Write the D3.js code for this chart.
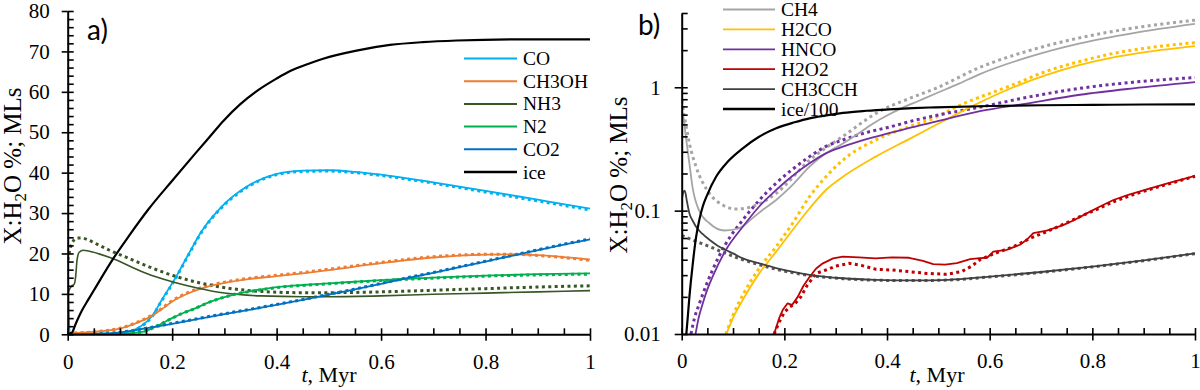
<!DOCTYPE html>
<html><head><meta charset="utf-8">
<script src="https://cdn.jsdelivr.net/npm/d3@7"></script>
<style>
body{margin:0;background:#fff;} svg{display:block;}
</style>
</head><body>
<svg id="chart" width="1200" height="390"></svg>
<script>
// ---------- Panel a) data (X:H2O %) ----------
const aCategories = ["CO", "CH3OH", "NH3", "N2", "CO2", "ice"];
const aColors = ["#00B0F0", "#ED7D31", "#375623", "#00B050", "#0070C0", "#000000"];
const aYTicks = [0, 10, 20, 30, 40, 50, 60, 70, 80];
const xTicks = [0, 0.2, 0.4, 0.6, 0.8, 1];

const a_ice_t = [0, 0.008, 0.015, 0.027, 0.04, 0.053, 0.085, 0.117, 0.155, 0.2, 0.244, 0.276, 0.298, 0.33, 0.362, 0.4, 0.425, 0.46, 0.489, 0.553, 0.617, 0.68, 0.745, 0.871, 1.0];
const a_ice_v = [0, 0.4, 2.5, 5.8, 8.7, 11.5, 18.3, 24.3, 31, 38, 44.7, 49.5, 52.8, 56.9, 60.2, 63.3, 65.1, 66.9, 68.2, 70.2, 71.6, 72.3, 72.7, 73, 73];

const a_CO_t = [0, 0.004, 0.05, 0.1, 0.117, 0.14, 0.161, 0.18, 0.206, 0.232, 0.257, 0.295, 0.34, 0.397, 0.45, 0.5, 0.55, 0.6, 0.65, 0.7, 0.8, 0.9, 1.0];
const a_CO_v = [19, 0.3, 0.1, 0.3, 0.6, 2, 4.4, 8.5, 13.9, 20, 25.6, 31.6, 36.3, 39.6, 40.5, 40.6, 40.2, 39.5, 38.6, 37.6, 35.5, 33.3, 31.1];
const a_COd_t = [0, 0.05, 0.1, 0.117, 0.14, 0.161, 0.18, 0.206, 0.232, 0.257, 0.295, 0.34, 0.397, 0.45, 0.5, 0.55, 0.6, 0.65, 0.7, 0.8, 0.9, 1.0];
const a_COd_v = [0, 0.1, 0.3, 0.6, 1.9, 4.3, 8.3, 13.7, 19.8, 25.4, 31.4, 36.1, 39.4, 40.3, 40.4, 40.0, 39.3, 38.4, 37.4, 35.2, 33.0, 30.8];

const a_CH3OH_t = [0, 0.05, 0.1, 0.13, 0.16, 0.18, 0.2, 0.23, 0.26, 0.3, 0.35, 0.4, 0.45, 0.5, 0.6, 0.7, 0.8, 0.85, 0.9, 1.0];
const a_CH3OH_v = [0.3, 0.6, 1.4, 2.7, 4.5, 6.2, 8.1, 10.1, 11.5, 12.7, 13.7, 14.4, 15.1, 15.9, 17.6, 19.0, 19.7, 19.8, 19.6, 18.5];
const a_CH3OHd_v = [0.3, 0.6, 1.5, 2.8, 4.7, 6.4, 8.3, 10.3, 11.7, 12.9, 13.9, 14.6, 15.3, 16.1, 17.8, 19.2, 19.8, 19.8, 19.5, 18.3];

const a_NH3_t = [0, 0.004, 0.008, 0.012, 0.015, 0.018, 0.022, 0.03, 0.04, 0.06, 0.085, 0.12, 0.15, 0.2, 0.25, 0.3, 0.37, 0.45, 0.5, 0.6, 0.7, 0.8, 0.9, 1.0];
const a_NH3_v = [10, 11.3, 12, 12.3, 14, 18.5, 20.3, 20.8, 20.6, 19.9, 18.8, 16.8, 15.1, 13, 11.4, 10.2, 9.5, 9.3, 9.3, 9.5, 9.9, 10.2, 10.5, 10.8];
const a_NH3d_t = [0, 0.008, 0.018, 0.027, 0.04, 0.053, 0.08, 0.117, 0.15, 0.18, 0.21, 0.244, 0.28, 0.308, 0.372, 0.45, 0.5, 0.6, 0.7, 0.8, 0.9, 1.0];
const a_NH3d_v = [18.3, 22.5, 23.8, 23.8, 23.3, 22.5, 20.8, 18.8, 17, 15.5, 14.2, 13, 12, 11.4, 10.6, 10.3, 10.3, 10.5, 10.9, 11.3, 11.7, 12];

const a_N2_t = [0, 0.1, 0.13, 0.149, 0.17, 0.2, 0.22, 0.244, 0.27, 0.295, 0.32, 0.35, 0.38, 0.41, 0.45, 0.5, 0.6, 0.7, 0.8, 0.9, 1.0];
const a_N2_v = [0, 0.15, 0.4, 0.8, 2.0, 4.0, 5.2, 6.4, 7.9, 9.0, 9.9, 10.7, 11.3, 11.8, 12.2, 12.6, 13.4, 14.0, 14.5, 14.9, 15.1];
const a_N2d_v = [0, 0.15, 0.4, 0.8, 2.0, 4.0, 5.2, 6.4, 7.9, 9.0, 9.9, 10.6, 11.2, 11.7, 12.1, 12.5, 13.3, 13.9, 14.4, 14.7, 14.9];

const a_CO2_t = [0, 0.05, 0.1, 0.117, 0.15, 0.2, 0.25, 0.3, 0.35, 0.4, 0.45, 0.5, 0.55, 0.6, 0.65, 0.7, 0.75, 0.8, 0.85, 0.9, 0.95, 1.0];
const a_CO2_v = [0, 0.1, 0.5, 0.8, 1.5, 2.6, 3.8, 5.0, 6.1, 7.3, 8.5, 9.8, 11.1, 12.5, 13.9, 15.2, 16.6, 18, 19.4, 20.8, 22.2, 23.5];
const a_CO2d_v = [0, 0.1, 0.5, 0.8, 1.5, 2.7, 3.9, 5.1, 6.2, 7.4, 8.6, 9.9, 11.2, 12.6, 14.0, 15.3, 16.7, 18.1, 19.5, 20.9, 22.3, 23.6];

// ---------- Panel b) data (log scale) ----------
const bCategories = ["CH4", "H2CO", "HNCO", "H2O2", "CH3CCH", "ice/100"];
const bColors = ["#A5A5A5", "#FFC000", "#7030A0", "#C00000", "#404040", "#000000"];
const bYTicks = [0.01, 0.1, 1];
const bYTickLabels = ["0.01", "0.1", "1"];

const b_CH4_t = [0, 0.004, 0.008, 0.015, 0.021, 0.034, 0.054, 0.083, 0.112, 0.138, 0.16, 0.184, 0.215, 0.249, 0.28, 0.314, 0.34, 0.37, 0.4, 0.43, 0.46, 0.495, 0.54, 0.581, 0.68, 0.776, 0.88, 1.0];
const b_CH4_v = [0.65, 0.55, 0.4, 0.242, 0.156, 0.1, 0.079, 0.069, 0.072, 0.087, 0.103, 0.122, 0.16, 0.227, 0.29, 0.35, 0.41, 0.5, 0.59, 0.68, 0.77, 0.89, 1.07, 1.28, 1.78, 2.27, 2.75, 3.26];
const b_CH4d_t = [0, 0.004, 0.008, 0.015, 0.028, 0.054, 0.08, 0.106, 0.138, 0.184, 0.249, 0.314, 0.386, 0.44, 0.495, 0.581, 0.68, 0.776, 0.88, 1.0];
const b_CH4d_v = [0.78, 0.62, 0.5, 0.35, 0.227, 0.138, 0.111, 0.103, 0.108, 0.138, 0.257, 0.4, 0.64, 0.8, 0.98, 1.45, 2.0, 2.52, 3.02, 3.5];

const b_H2CO_t = [0.087, 0.1, 0.119, 0.151, 0.184, 0.216, 0.249, 0.281, 0.314, 0.378, 0.443, 0.505, 0.571, 0.646, 0.711, 0.776, 0.841, 0.906, 1.0];
const b_H2CO_v = [0.01, 0.0135, 0.0189, 0.031, 0.0465, 0.0697, 0.104, 0.147, 0.188, 0.274, 0.38, 0.52, 0.72, 1.0, 1.26, 1.52, 1.75, 1.94, 2.16];
const b_H2COd_t = [0.086, 0.1, 0.119, 0.151, 0.184, 0.216, 0.249, 0.281, 0.314, 0.378, 0.443, 0.495, 0.539, 0.646, 0.711, 0.776, 0.841, 0.906, 1.0];
const b_H2COd_v = [0.01, 0.0142, 0.0207, 0.0341, 0.0511, 0.0789, 0.13, 0.188, 0.257, 0.374, 0.479, 0.571, 0.705, 1.05, 1.35, 1.62, 1.88, 2.08, 2.3];

const b_HNCO_t = [0.027, 0.033, 0.041, 0.05, 0.06, 0.086, 0.119, 0.151, 0.184, 0.215, 0.249, 0.28, 0.314, 0.36, 0.404, 0.45, 0.495, 0.581, 0.665, 0.776, 0.88, 1.0];
const b_HNCO_v = [0.01, 0.0135, 0.0177, 0.023, 0.029, 0.048, 0.074, 0.108, 0.147, 0.19, 0.242, 0.29, 0.33, 0.38, 0.424, 0.475, 0.526, 0.64, 0.73, 0.87, 0.98, 1.1];
const b_HNCOd_t = [0.018, 0.025, 0.033, 0.041, 0.06, 0.086, 0.119, 0.15, 0.184, 0.215, 0.249, 0.28, 0.314, 0.36, 0.404, 0.45, 0.495, 0.581, 0.68, 0.776, 0.88, 1.0];
const b_HNCOd_v = [0.01, 0.0135, 0.017, 0.021, 0.033, 0.054, 0.084, 0.12, 0.167, 0.215, 0.274, 0.33, 0.374, 0.43, 0.475, 0.535, 0.59, 0.69, 0.84, 0.98, 1.1, 1.2];

const b_H2O2_t = [0.18, 0.19, 0.197, 0.206, 0.215, 0.226, 0.237, 0.249, 0.262, 0.275, 0.295, 0.314, 0.345, 0.378, 0.41, 0.443, 0.47, 0.49, 0.513, 0.536, 0.562, 0.581, 0.595, 0.607, 0.633, 0.659, 0.672, 0.685, 0.711, 0.743, 0.765, 0.789, 0.815, 0.841, 0.87, 0.906, 0.95, 1.0];
const b_H2O2_v = [0.01, 0.0135, 0.0157, 0.0177, 0.0172, 0.02, 0.0245, 0.029, 0.034, 0.0374, 0.041, 0.0424, 0.0418, 0.041, 0.0418, 0.0415, 0.0392, 0.0369, 0.0365, 0.0376, 0.0404, 0.0412, 0.0415, 0.0465, 0.048, 0.0529, 0.058, 0.0656, 0.0688, 0.0764, 0.084, 0.095, 0.108, 0.122, 0.134, 0.149, 0.168, 0.191];
const b_H2O2d_t = [0.18, 0.19, 0.2, 0.21, 0.22, 0.232, 0.245, 0.262, 0.281, 0.3, 0.327, 0.35, 0.378, 0.41, 0.443, 0.477, 0.516, 0.545, 0.565, 0.581, 0.61, 0.646, 0.68, 0.711, 0.745, 0.776, 0.81, 0.841, 0.88, 0.92, 0.96, 1.0];
const b_H2O2d_v = [0.01, 0.0125, 0.015, 0.0165, 0.0175, 0.02, 0.025, 0.031, 0.033, 0.0355, 0.0374, 0.036, 0.0335, 0.033, 0.032, 0.031, 0.0305, 0.032, 0.0355, 0.04, 0.045, 0.051, 0.06, 0.0675, 0.078, 0.0895, 0.103, 0.118, 0.135, 0.152, 0.17, 0.19];

const b_CH3CCH_t = [0, 0.003, 0.006, 0.01, 0.015, 0.022, 0.028, 0.04, 0.054, 0.07, 0.086, 0.1, 0.119, 0.15, 0.184, 0.215, 0.249, 0.314, 0.378, 0.45, 0.52, 0.6, 0.7, 0.8, 0.9, 1.0];
const b_CH3CCH_v = [0.12, 0.14, 0.145, 0.12, 0.095, 0.082, 0.074, 0.065, 0.058, 0.052, 0.048, 0.045, 0.041, 0.0375, 0.0342, 0.032, 0.0302, 0.0283, 0.0275, 0.0272, 0.0275, 0.0292, 0.0318, 0.0352, 0.0395, 0.045];
const b_CH3CCHd_t = [0, 0.02, 0.054, 0.086, 0.119, 0.15, 0.184, 0.249, 0.314, 0.378, 0.45, 0.52, 0.6, 0.7, 0.8, 0.9, 1.0];
const b_CH3CCHd_v = [0.063, 0.058, 0.0512, 0.045, 0.04, 0.0365, 0.0335, 0.0298, 0.0281, 0.0273, 0.0271, 0.0274, 0.029, 0.0316, 0.035, 0.0393, 0.0448];

const b_ice_t = [0.009, 0.012, 0.015, 0.018, 0.023, 0.028, 0.034, 0.041, 0.05, 0.067, 0.09, 0.119, 0.15, 0.184, 0.22, 0.249, 0.28, 0.314, 0.36, 0.404, 0.45, 0.495, 0.6, 0.7, 0.8, 0.9, 1.0];
const b_ice_v = [0.01, 0.014, 0.02, 0.027, 0.042, 0.061, 0.083, 0.108, 0.135, 0.188, 0.25, 0.32, 0.395, 0.465, 0.52, 0.56, 0.59, 0.62, 0.645, 0.663, 0.678, 0.688, 0.705, 0.715, 0.72, 0.725, 0.728];

// ---------- drawing ----------
const svg = d3.select("#chart");
const SERIF = '"Liberation Serif", "Times New Roman", Times, serif';

const xA = d3.scaleLinear().domain([0, 1]).range([67.7, 590]);
const yA = d3.scaleLinear().domain([0, 80]).range([334.3, 11]);
const xB = d3.scaleLinear().domain([0, 1]).range([681.7, 1195]);
const yB = d3.scaleLog().domain([0.01, 4]).range([334, 13]);

const defs = svg.append("defs");
defs.append("clipPath").attr("id", "clipA").append("rect")
  .attr("x", xA(0)).attr("y", 0).attr("width", xA(1) - xA(0) + 2).attr("height", yA(0));
defs.append("clipPath").attr("id", "clipB").append("rect")
  .attr("x", xB(0)).attr("y", 0).attr("width", xB(1) - xB(0) + 2).attr("height", yB(0.01));

function path(g, x, y, t, v, color, dotted, width, curve) {
  const ln = d3.line().x((d, i) => x(t[i])).y(d => y(d)).curve(curve || d3.curveMonotoneX);
  const p = g.append("path").attr("d", ln(v)).attr("fill", "none").attr("stroke", color);
  if (dotted) {
    p.attr("stroke-width", 3).attr("stroke-dasharray", "3,3.4");
  } else {
    p.attr("stroke-width", width || 1.8).attr("stroke-linejoin", "round");
  }
}

// ---- panel a
const gA = svg.append("g").attr("clip-path", "url(#clipA)");
path(gA, xA, yA, a_COd_t, a_COd_v, aColors[0], true);
path(gA, xA, yA, a_CH3OH_t, a_CH3OHd_v, aColors[1], true);
path(gA, xA, yA, a_NH3d_t, a_NH3d_v, aColors[2], true);
path(gA, xA, yA, a_N2_t, a_N2d_v, aColors[3], true);
path(gA, xA, yA, a_CO2_t, a_CO2d_v, aColors[4], true);
path(gA, xA, yA, a_CO_t, a_CO_v, aColors[0], false);
path(gA, xA, yA, a_CH3OH_t, a_CH3OH_v, aColors[1], false);
path(gA, xA, yA, a_NH3_t, a_NH3_v, aColors[2], false, 1.6);
path(gA, xA, yA, a_N2_t, a_N2_v, aColors[3], false);
path(gA, xA, yA, a_CO2_t, a_CO2_v, aColors[4], false);
path(gA, xA, yA, a_ice_t, a_ice_v, aColors[5], false, 2.2);

// ---- panel b
const gB = svg.append("g").attr("clip-path", "url(#clipB)");
path(gB, xB, yB, b_CH4d_t, b_CH4d_v, bColors[0], true);
path(gB, xB, yB, b_H2COd_t, b_H2COd_v, bColors[1], true);
path(gB, xB, yB, b_HNCOd_t, b_HNCOd_v, bColors[2], true);
path(gB, xB, yB, b_H2O2d_t, b_H2O2d_v, bColors[3], true, null, d3.curveLinear);
path(gB, xB, yB, b_CH3CCHd_t, b_CH3CCHd_v, "#595959", true);
path(gB, xB, yB, b_CH4_t, b_CH4_v, bColors[0], false);
path(gB, xB, yB, b_H2CO_t, b_H2CO_v, bColors[1], false);
path(gB, xB, yB, b_HNCO_t, b_HNCO_v, bColors[2], false);
path(gB, xB, yB, b_H2O2_t, b_H2O2_v, bColors[3], false, 1.8, d3.curveLinear);
path(gB, xB, yB, b_CH3CCH_t, b_CH3CCH_v, bColors[4], false);
path(gB, xB, yB, b_ice_t, b_ice_v, bColors[5], false, 2.2);

// ---- axes
function styleAxis(g, labels) {
  g.attr("font-family", SERIF).attr("font-size", 21);
  g.selectAll(".domain").attr("stroke", "#000").attr("stroke-width", 2);
  g.selectAll(".tick line").attr("stroke", "#000").attr("stroke-width", 1.6);
  g.selectAll(".tick text").attr("fill", "#000")
    .style("font-family", SERIF).style("font-size", "21px");
  if (!labels) g.selectAll(".domain").remove();
}
const fmtX = d => (d === 0 ? "0" : d === 1 ? "1" : d3.format(".1f")(d));
const minorX = d3.range(0, 1.0001, 0.05);

// panel a axes
svg.append("g").attr("transform", `translate(0,${yA(0)})`)
  .call(d3.axisTop(xA).tickValues(minorX).tickSize(6).tickFormat(""))
  .call(g => styleAxis(g, false));
svg.append("g").attr("transform", `translate(0,${yA(0)})`)
  .call(d3.axisBottom(xA).tickValues(xTicks).tickFormat(fmtX).tickSize(6.5).tickPadding(13).tickSizeOuter(0))
  .call(g => styleAxis(g, true));
svg.append("g").attr("transform", `translate(${xA(0)},0)`)
  .call(d3.axisRight(yA).tickValues(d3.range(0, 80.001, 2)).tickSize(6).tickFormat(""))
  .call(g => styleAxis(g, false));
svg.append("g").attr("transform", `translate(${xA(0)},0)`)
  .call(d3.axisLeft(yA).tickValues(aYTicks).tickSize(6).tickPadding(12).tickSizeOuter(0))
  .call(g => styleAxis(g, true));

// panel b axes
svg.append("g").attr("transform", `translate(0,${yB(0.01)})`)
  .call(d3.axisTop(xB).tickValues(minorX).tickSize(6).tickFormat(""))
  .call(g => styleAxis(g, false));
svg.append("g").attr("transform", `translate(0,${yB(0.01)})`)
  .call(d3.axisBottom(xB).tickValues(xTicks).tickFormat(fmtX).tickSize(6.5).tickPadding(13).tickSizeOuter(0))
  .call(g => styleAxis(g, true));
const minorB = [];
[0.01, 0.1, 1].forEach(dec => { for (let k = 1; k <= 9; k++) { const v = dec * k; if (v <= 4.0001) minorB.push(v); } });
svg.append("g").attr("transform", `translate(${xB(0)},0)`)
  .call(d3.axisRight(yB).tickValues(minorB).tickSize(6).tickFormat(""))
  .call(g => styleAxis(g, false));
svg.append("g").attr("transform", `translate(${xB(0)},0)`)
  .call(d3.axisLeft(yB).tickValues(bYTicks).tickFormat((d, i) => bYTickLabels[i]).tickSize(7).tickPadding(14).tickSizeOuter(0))
  .call(g => styleAxis(g, true));

// ---- axis titles
function yTitle(x, y) {
  const t = svg.append("text").attr("transform", `translate(${x},${y}) rotate(-90)`)
    .attr("text-anchor", "middle").style("font-family", SERIF).style("font-size", "25px").attr("fill", "#000");
  t.append("tspan").text("X:H");
  t.append("tspan").text("2").style("font-size", "17px").attr("dy", 5);
  t.append("tspan").text("O %; MLs").attr("dy", -5);
}
yTitle(21, 166);
yTitle(627, 175);

function xTitle(cx) {
  const t = svg.append("text").attr("x", cx).attr("y", 382).attr("text-anchor", "middle")
    .style("font-family", SERIF).style("font-size", "22px").attr("fill", "#000");
  t.append("tspan").text("t").style("font-style", "italic");
  t.append("tspan").text(", Myr");
}
xTitle(329);
xTitle(937);

svg.append("text").attr("x", 87).attr("y", 40).text("a)")
  .style("font-family", "Lato, 'Open Sans', sans-serif").style("font-size", "28px").attr("fill", "#000");
svg.append("text").attr("x", 638).attr("y", 35).text("b)")
  .style("font-family", "Lato, 'Open Sans', sans-serif").style("font-size", "28px").attr("fill", "#000");

// ---- legends
function legend(names, colors, x1, x2, xt, y0, dy, widths) {
  const g = svg.append("g");
  names.forEach((n, i) => {
    const y = y0 + i * dy;
    g.append("line").attr("x1", x1).attr("x2", x2).attr("y1", y).attr("y2", y)
      .attr("stroke", colors[i]).attr("stroke-width", widths[i]);
    g.append("text").attr("x", xt).attr("y", y + 6.5).text(n)
      .style("font-family", SERIF).style("font-size", "19.5px").attr("fill", "#000");
  });
}
legend(aCategories, aColors, 464, 517, 523, 58.5, 22.7, [2, 2, 2, 2, 2, 2.4]);
legend(bCategories, bColors, 723, 775, 781, 9.5, 19.9, [1.8, 1.8, 1.8, 1.8, 1.8, 2.4]);
</script>
</body></html>
